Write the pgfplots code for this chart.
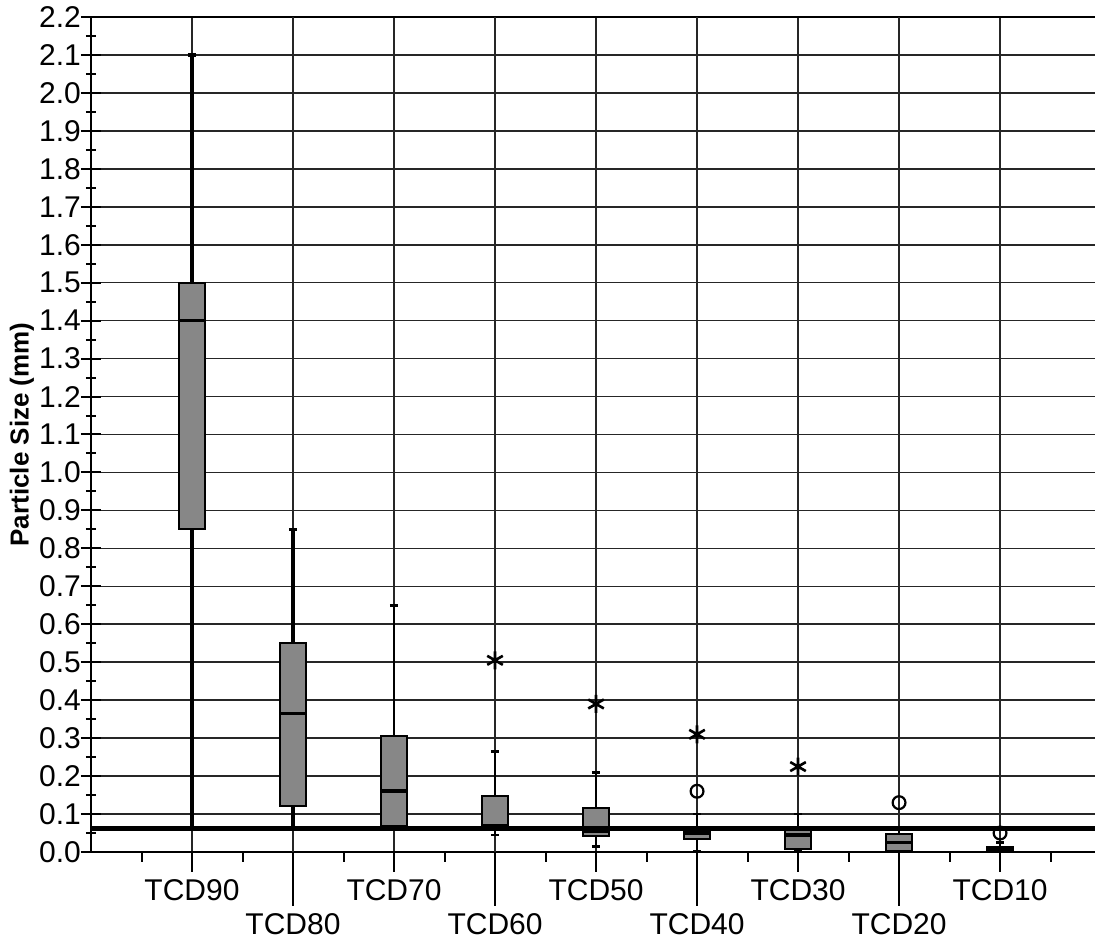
\documentclass[border=0pt]{standalone}
\usepackage{fontspec}
\setmainfont{Liberation Sans}
\usepackage{pgfplots}
\pgfplotsset{compat=1.18}
\usepgfplotslibrary{statistics}
\definecolor{boxgray}{RGB}{135,135,135}
\begin{document}
\begin{tikzpicture}
\begin{axis}[
  name=ax,
  scale only axis,
  width=502pt, height=417.5pt,
  xmin=-1, xmax=8.94,
  ymin=0, ymax=2.2,
  axis y line*=left,
  axis line style={line width=1.3pt},
  xtick={0,2,4,6,8},
  xticklabels={TCD90,TCD70,TCD50,TCD30,TCD10},
  extra x ticks={1,3,5,7},
  extra x tick labels={TCD80,TCD60,TCD40,TCD20},
  extra x tick style={major tick length=27pt, xmajorgrids=true},
  minor xtick={-0.5,0.5,1.5,2.5,3.5,4.5,5.5,6.5,7.5,8.5},
  xtick pos=bottom, ytick pos=left,
  ytick distance=0.1, minor y tick num=1,
  xtick align=outside, ytick align=center,
  major tick length=10pt, minor tick length=5pt,
  every tick/.style={black, line width=1pt},
  xmajorgrids, ymajorgrids,
  major grid style={black!85, line width=0.8pt},
  /pgf/number format/assume math mode=true,
  yticklabel style={xshift=3.5pt, /pgf/number format/fixed, /pgf/number format/fixed zerofill, /pgf/number format/precision=1},
  tick label style={font=\fontsize{15}{17}\selectfont, text=black},
  every axis y label/.style={at={(axis description cs:-0.0687,0.5)}, rotate=90, anchor=center, font=\fontsize{13}{15}\selectfont\bfseries},
  ylabel={Particle Size (mm)},
  boxplot/draw direction=y,
  boxplot/box extend=0.25,
  boxplot/whisker extend=0.08,
  boxplot/every box/.style={draw=black, line width=1pt, fill=boxgray},
  boxplot/every whisker/.style={black, line width=1.3pt},
  boxplot/every median/.style={black, line width=1.8pt},
]
% TCD90
\addplot[black, boxplot prepared={draw position=0, lower whisker=0.065, lower quartile=0.85, median=1.40, upper quartile=1.50, upper whisker=2.10}, boxplot/every whisker/.style={black, line width=1.6pt}] coordinates {};
% TCD80
\addplot[black, boxplot prepared={draw position=1, lower whisker=0.065, lower quartile=0.12, median=0.365, upper quartile=0.55, upper whisker=0.85}, boxplot/every whisker/.style={black, line width=1.6pt}] coordinates {};
% TCD70
\addplot[black, boxplot prepared={draw position=2, lower whisker=0.065, lower quartile=0.068, median=0.16, upper quartile=0.305, upper whisker=0.65}] coordinates {};
% TCD60
\addplot[black, boxplot prepared={draw position=3, lower whisker=0.045, lower quartile=0.066, median=0.07, upper quartile=0.148, upper whisker=0.265}] coordinates {};
% TCD50
\addplot[black, boxplot prepared={draw position=4, lower whisker=0.015, lower quartile=0.042, median=0.055, upper quartile=0.115, upper whisker=0.21}] coordinates {};
% TCD40
\addplot[black, boxplot prepared={draw position=5, lower whisker=0.003, lower quartile=0.035, median=0.05, upper quartile=0.067, upper whisker=0.10}] coordinates {};
% TCD30
\addplot[black, boxplot prepared={draw position=6, lower whisker=0.003, lower quartile=0.008, median=0.045, upper quartile=0.057, upper whisker=0.10}] coordinates {};
% TCD20
\addplot[black, boxplot prepared={draw position=7, lower whisker=0.0, lower quartile=0.003, median=0.025, upper quartile=0.048, upper whisker=0.06}] coordinates {};
% TCD10
\addplot[black, boxplot prepared={draw position=8, lower whisker=0.0, lower quartile=0.0, median=0.005, upper quartile=0.013, upper whisker=0.025}] coordinates {};
% reference line
\addplot[black, line width=2.5pt] coordinates {(-1,0.0625) (8.94,0.0625)};
% extremes (stars)
\addplot[only marks, mark=asterisk, mark size=4.5pt, mark options={line width=1.3pt, black}] coordinates {(3,0.505) (4,0.39) (5,0.31) (6,0.225)};
% outliers (circles)
\addplot[only marks, mark=o, mark size=3.2pt, mark options={line width=1.1pt, black, fill=white}] coordinates {(5,0.16) (7,0.13) (8,0.05)};
\end{axis}
\pgfresetboundingbox
\path[use as bounding box] ([xshift=-45.5pt,yshift=-44.5pt]ax.south west) rectangle ([yshift=8.5pt]ax.north east);
\end{tikzpicture}
\end{document}
